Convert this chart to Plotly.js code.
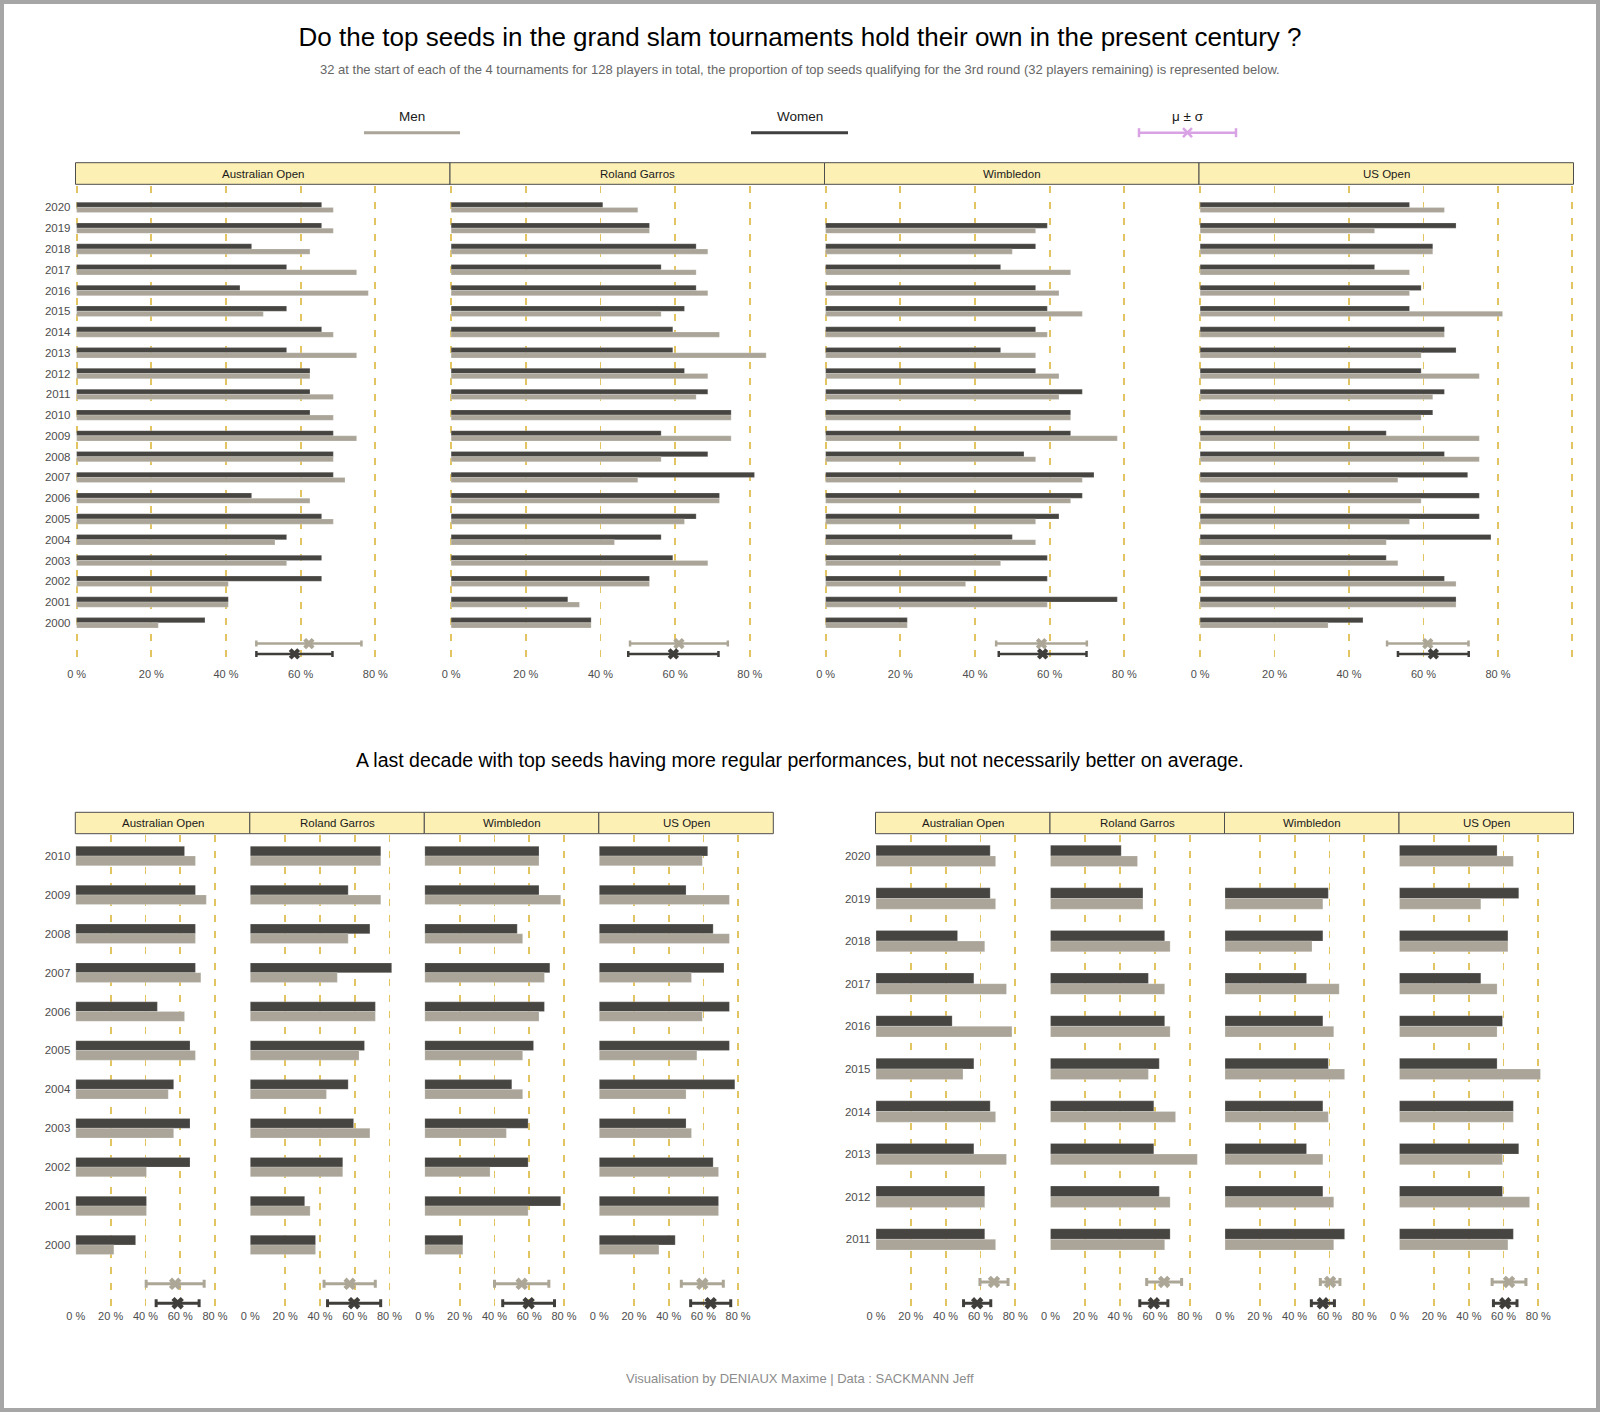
<!DOCTYPE html>
<html><head><meta charset="utf-8">
<script src="https://cdn.plot.ly/plotly-3.0.1.min.js"></script>
<style>html,body{margin:0;padding:0;background:#fff}#chart{width:1600px;height:1412px}</style>
</head><body><div id="chart"></div>
<script>
// ---------- DATA (number of the 32 seeds reaching the 3rd round) ----------
const years = [2000,2001,2002,2003,2004,2005,2006,2007,2008,2009,2010,2011,2012,2013,2014,2015,2016,2017,2018,2019,2020];
const tournaments = ['Australian Open','Roland Garros','Wimbledon','US Open'];
const seedCount = 32;
const aoWomen  = [11,13,21,21,18,21,15,22,22,22,20,20,20,18,21,18,14,18,15,21,21];
const aoMen    = [ 7,13,13,18,17,22,20,23,22,24,22,22,20,24,22,16,25,24,20,22,22];
const rgWomen  = [12,10,17,19,18,21,23,26,22,18,24,22,20,19,19,20,21,18,21,17,13];
const rgMen    = [12,11,17,22,14,20,23,16,18,24,24,21,22,27,23,18,22,21,22,17,16];
const wimWomen = [ 7,25,19,19,16,20,22,23,17,21,21,22,18,15,18,19,18,15,18,19,null];
const wimMen   = [ 7,19,12,15,18,18,21,22,18,25,21,20,20,18,19,22,20,21,16,18,null];
const usWomen  = [14,22,21,16,25,24,24,23,21,16,20,21,19,22,21,18,19,15,20,22,18];
const usMen    = [11,22,22,17,16,18,19,17,24,24,19,20,24,19,21,26,18,18,20,15,21];
const xTickVals = [0,0.2,0.4,0.6,0.8,1];
const xTickText = ['0 %','20 %','40 %','60 %','80 %',''];

const womenData = [aoWomen, rgWomen, wimWomen, usWomen];
const menData   = [aoMen, rgMen, wimMen, usMen];

// ---------- STYLE ----------
const W = 1600, H = 1412;
const DARK = '#474541', LIGHT = '#aaa598', ERR_LIGHT = '#aca697', ERR_DARK = '#3f3e3b';
const GOLD = '#e3c463', STRIP_FILL = '#fdf0b4', STRIP_LINE = '#4d4d4d';
const FONT = 'Liberation Sans, Arial, sans-serif';
const px = v => v / W, py = v => 1 - v / H;

const groups = [
  {yaxis:'y',  yname:'yaxis',  xStart:1, from:2000, to:2020, x0:75.5, pw:374.5, top:186, bot:666,  range:[1997.92,2021.03], stripTop:162.7, stripBot:184.3, errW:3, errT:2.5, mSize:10},
  {yaxis:'y2', yname:'yaxis2', xStart:5, from:2000, to:2010, x0:75.3, pw:174.5, top:835, bot:1307.5, range:[1998.39,2010.54], stripTop:812.3, stripBot:833.7, errW:4, errT:3, mSize:11},
  {yaxis:'y3', yname:'yaxis3', xStart:9, from:2011, to:2020, x0:875.5, pw:174.5, top:835, bot:1307.5, range:[2009.4,2020.49], stripTop:812.3, stripBot:833.7, errW:4, errT:3, mSize:11}
];

function stats(arr){
  const v = arr.filter(a => a != null);
  const m = v.reduce((s,a)=>s+a,0)/v.length;
  const sd = Math.sqrt(v.reduce((s,a)=>s+(a-m)*(a-m),0)/(v.length-1));
  return {m, sd};
}

const traces = [], shapes = [], annotations = [];
const layout = {
  width:W, height:H, margin:{l:0,r:0,t:0,b:0},
  paper_bgcolor:'#fff', plot_bgcolor:'#fff', showlegend:false, barmode:'overlay',
  font:{family:FONT, color:'#4d4d4d'},
  title:{text:'Do the top seeds in the grand slam tournaments hold their own in the present century ?',
         x:0.5, xanchor:'center', y:py(36.7), yanchor:'middle', font:{size:26, color:'#000', family:FONT}}
};

groups.forEach(g => {
  const idx = years.map((y,i)=>i).filter(i => years[i] >= g.from && years[i] <= g.to);
  const yrs = idx.map(i => years[i]);
  layout[g.yname] = {
    domain:[py(g.bot), py(g.top)], range:g.range, anchor:'x'+(g.xStart===1?'':g.xStart),
    tickvals:yrs, ticktext:yrs.map(String), showgrid:false, zeroline:false, showline:false, ticks:'',
    tickfont:{size:11.5, color:'#4d4d4d', family:FONT}, ticklabelstandoff:4, fixedrange:true
  };
  tournaments.forEach((t, ti) => {
    const ax = g.xStart + ti;
    const xname = 'xaxis' + (ax===1?'':ax), xid = 'x' + (ax===1?'':ax);
    const x0 = g.x0 + g.pw*ti, x1 = x0 + g.pw;
    layout[xname] = {
      domain:[px(x0), px(x1)], range:[-0.003, ti===3 ? 1.003 : 1], anchor:g.yaxis,
      tickvals:xTickVals, ticktext:xTickText, showgrid:true, gridcolor:GOLD, gridwidth:1.8, griddash:'7px,9px',
      zeroline:false, showline:false, ticks:'', tickfont:{size:11, color:'#4d4d4d', family:FONT}, fixedrange:true
    };
    const wv = idx.map(i => womenData[ti][i]), mv = idx.map(i => menData[ti][i]);
    traces.push({type:'bar', orientation:'h', xaxis:xid, yaxis:g.yaxis, y:yrs,
      x:wv.map(v => v==null?null:v/seedCount), width:0.25, offset:0,
      marker:{color:DARK, line:{width:0.6, color:'rgba(255,255,255,0.35)'}}, hoverinfo:'skip'});
    traces.push({type:'bar', orientation:'h', xaxis:xid, yaxis:g.yaxis, y:yrs,
      x:mv.map(v => v==null?null:v/seedCount), width:0.25, offset:-0.25,
      marker:{color:LIGHT, line:{width:0.6, color:'rgba(255,255,255,0.35)'}}, hoverinfo:'skip'});
    const sm = stats(mv), sw = stats(wv);
    traces.push({type:'scatter', mode:'markers', xaxis:xid, yaxis:g.yaxis, x:[sm.m/seedCount], y:[g.from-1],
      error_x:{type:'data', array:[sm.sd/seedCount], visible:true, color:ERR_LIGHT, thickness:g.errT, width:g.errW},
      marker:{symbol:'x', size:g.mSize, color:ERR_LIGHT}, hoverinfo:'skip', cliponaxis:false});
    traces.push({type:'scatter', mode:'markers', xaxis:xid, yaxis:g.yaxis, x:[sw.m/seedCount], y:[g.from-1.5],
      error_x:{type:'data', array:[sw.sd/seedCount], visible:true, color:ERR_DARK, thickness:g.errT, width:g.errW},
      marker:{symbol:'x', size:g.mSize, color:ERR_DARK}, hoverinfo:'skip', cliponaxis:false});
    // facet strip
    shapes.push({type:'rect', xref:'paper', yref:'paper', x0:px(x0), x1:px(x1), y0:py(g.stripBot), y1:py(g.stripTop),
      fillcolor:STRIP_FILL, line:{color:STRIP_LINE, width:1}, layer:'above'});
    annotations.push({xref:'paper', yref:'paper', x:px((x0+x1)/2), y:py((g.stripTop+g.stripBot)/2),
      text:t, showarrow:false, xanchor:'center', yanchor:'middle', font:{size:11.5, color:'#1a1a1a', family:FONT}});
  });
});

// ---------- texts ----------
annotations.push({xref:'paper', yref:'paper', x:0.5, y:py(69.4), xanchor:'center', yanchor:'middle', showarrow:false,
  text:'32 at the start of each of the 4 tournaments for 128 players in total, the proportion of top seeds qualifying for the 3rd round (32 players remaining) is represented below.',
  font:{size:13, color:'#666', family:FONT}});
annotations.push({xref:'paper', yref:'paper', x:0.5, y:py(760), xanchor:'center', yanchor:'middle', showarrow:false,
  text:'A last decade with top seeds having more regular performances, but not necessarily better on average.',
  font:{size:19.5, color:'#000', family:FONT}});
annotations.push({xref:'paper', yref:'paper', x:0.5, y:py(1378.6), xanchor:'center', yanchor:'middle', showarrow:false,
  text:'Visualisation by DENIAUX Maxime | Data : SACKMANN Jeff', font:{size:13, color:'#8c8c8c', family:FONT}});

// ---------- legend (keys) ----------
const legY = 132.7, legTextY = 116.5;
[['Men', 364, 460, LIGHT], ['Women', 751, 848, '#404040']].forEach(([lab, a, b, c]) => {
  shapes.push({type:'line', xref:'paper', yref:'paper', x0:px(a), x1:px(b), y0:py(legY), y1:py(legY), line:{color:c, width:3}});
  annotations.push({xref:'paper', yref:'paper', x:px((a+b)/2), y:py(legTextY), text:lab, showarrow:false,
    xanchor:'center', yanchor:'middle', font:{size:13.5, color:'#1a1a1a', family:FONT}});
});
const VIO = '#d8a2e4', la = 1139, lb = 1236, lc = (la+lb)/2;
shapes.push({type:'line', xref:'paper', yref:'paper', x0:px(la), x1:px(lb), y0:py(legY), y1:py(legY), line:{color:VIO, width:2.5}});
[la, lb].forEach(x => shapes.push({type:'line', xref:'paper', yref:'paper', x0:px(x), x1:px(x), y0:py(legY-4.5), y1:py(legY+4.5), line:{color:VIO, width:2.5}}));
shapes.push({type:'line', xref:'paper', yref:'paper', x0:px(lc-4.5), x1:px(lc+4.5), y0:py(legY-4.5), y1:py(legY+4.5), line:{color:VIO, width:2.5}});
shapes.push({type:'line', xref:'paper', yref:'paper', x0:px(lc-4.5), x1:px(lc+4.5), y0:py(legY+4.5), y1:py(legY-4.5), line:{color:VIO, width:2.5}});
annotations.push({xref:'paper', yref:'paper', x:px(lc), y:py(legTextY), text:'μ ± σ', showarrow:false,
  xanchor:'center', yanchor:'middle', font:{size:13.5, color:'#1a1a1a', family:FONT}});

// outer frame
shapes.push({type:'rect', xref:'paper', yref:'paper', x0:0, x1:1, y0:0, y1:1, line:{color:'#a6a6a6', width:8}, layer:'above'});

layout.shapes = shapes;
layout.annotations = annotations;
Plotly.newPlot('chart', traces, layout, {displayModeBar:false, staticPlot:true});
</script></body></html>
